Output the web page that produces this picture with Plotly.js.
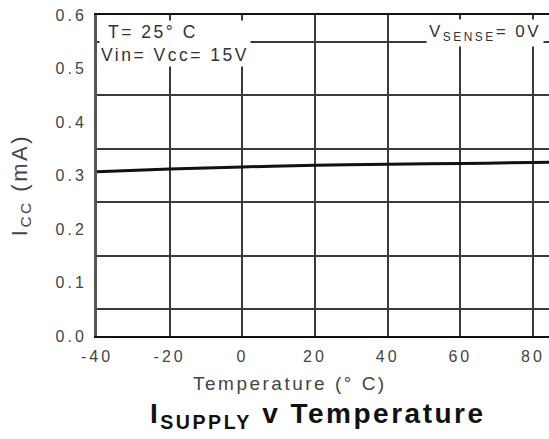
<!DOCTYPE html>
<html>
<head>
<meta charset="utf-8">
<script src="https://cdn.plot.ly/plotly-3.0.1.min.js"></script>
<style>
html, body { margin: 0; padding: 0; background: #fff; }
#chart { width: 549px; height: 439px; }
text { letter-spacing: 2.5px; }
.xtick text, .ytick text { letter-spacing: 3px; }
</style>
</head>
<body>
<div id="chart"></div>
<script>
// Data
const temperature = [-40, -20, 0, 20, 40, 60, 80, 85];
const iccMilliamp = [0.307, 0.312, 0.316, 0.319, 0.321, 0.3225, 0.3243, 0.325];

const xTickVals = [-40, -20, 0, 20, 40, 60, 80];
const xTickText = ['-40', '-20', '0', '20', '40', '60', '80'];
const yTickVals = [0.0, 0.1, 0.2, 0.3, 0.4, 0.5, 0.6];
const yTickText = ['0.0', '0.1', '0.2', '0.3', '0.4', '0.5', '0.6'];

const fontFamily = '"Liberation Sans", Arial, Helvetica, sans-serif';

const trace = {
  x: temperature,
  y: iccMilliamp,
  type: 'scatter',
  mode: 'lines',
  line: { color: '#111', width: 3, shape: 'spline' },
  hoverinfo: 'skip',
  showlegend: false
};

const layout = {
  width: 549,
  height: 439,
  margin: { l: 97, r: 0, t: 15, b: 103, pad: 0 },
  paper_bgcolor: '#fff',
  plot_bgcolor: '#fff',
  font: { family: fontFamily, color: '#444' },
  showlegend: false,
  xaxis: {
    range: [-40, 84.4],
    tickmode: 'array',
    tickvals: xTickVals,
    ticktext: xTickText,
    ticks: '',
    showgrid: true,
    gridcolor: '#3a3a3a',
    gridwidth: 2,
    zeroline: false,
    showline: true,
    linecolor: '#111',
    linewidth: 2,
    mirror: true,
    tickfont: { size: 16, color: '#444', family: fontFamily },
    ticklabelstandoff: 5,
    fixedrange: true
  },
  yaxis: {
    range: [0, 0.6],
    tickmode: 'array',
    tickvals: yTickVals,
    ticktext: yTickText,
    ticks: '',
    showgrid: false,
    zeroline: false,
    showline: true,
    linecolor: '#555',
    linewidth: 3,
    tickfont: { size: 16, color: '#444', family: fontFamily },
    ticklabelstandoff: 4,
    minor: {
      tick0: 0.05,
      dtick: 0.1,
      showgrid: true,
      gridcolor: '#3a3a3a',
      gridwidth: 2,
      ticks: ''
    },
    fixedrange: true
  },
  annotations: [
    {
      text: ' T= 25° C<br>Vin= Vcc= 15V',
      xref: 'paper', yref: 'paper',
      x: 0.0, y: 1.0,
      xanchor: 'left', yanchor: 'top',
      xshift: 2, yshift: -5,
      align: 'left',
      showarrow: false,
      bgcolor: '#fff',
      borderpad: 1,
      font: { size: 17.5, color: '#333', family: fontFamily }
    },
    {
      text: 'V<sub>SENSE</sub>= 0V',
      xref: 'paper', yref: 'paper',
      x: 0.99, y: 1.0,
      xanchor: 'right', yanchor: 'top',
      yshift: -4,
      align: 'left',
      showarrow: false,
      bgcolor: '#fff',
      borderpad: 2,
      font: { size: 17, color: '#333', family: fontFamily }
    },
    {
      text: 'Temperature (° C)',
      xref: 'paper', yref: 'paper',
      x: 0.427, y: 0,
      xanchor: 'center', yanchor: 'middle',
      yshift: -47,
      showarrow: false,
      font: { size: 19, color: '#444', family: fontFamily }
    },
    {
      text: '<b>I<sub>SUPPLY</sub> v Temperature</b>',
      xref: 'paper', yref: 'paper',
      x: 0.49, y: 0,
      xanchor: 'center', yanchor: 'middle',
      yshift: -79,
      showarrow: false,
      font: { size: 28, color: '#111', family: fontFamily }
    },
    {
      text: 'I<sub>CC</sub> (mA)',
      xref: 'paper', yref: 'paper',
      x: 0, y: 0.47,
      xanchor: 'center', yanchor: 'middle',
      xshift: -76,
      textangle: -90,
      showarrow: false,
      font: { size: 22, color: '#444', family: fontFamily }
    }
  ]
};

Plotly.newPlot('chart', [trace], layout, { displayModeBar: false, staticPlot: true });
</script>
</body>
</html>
